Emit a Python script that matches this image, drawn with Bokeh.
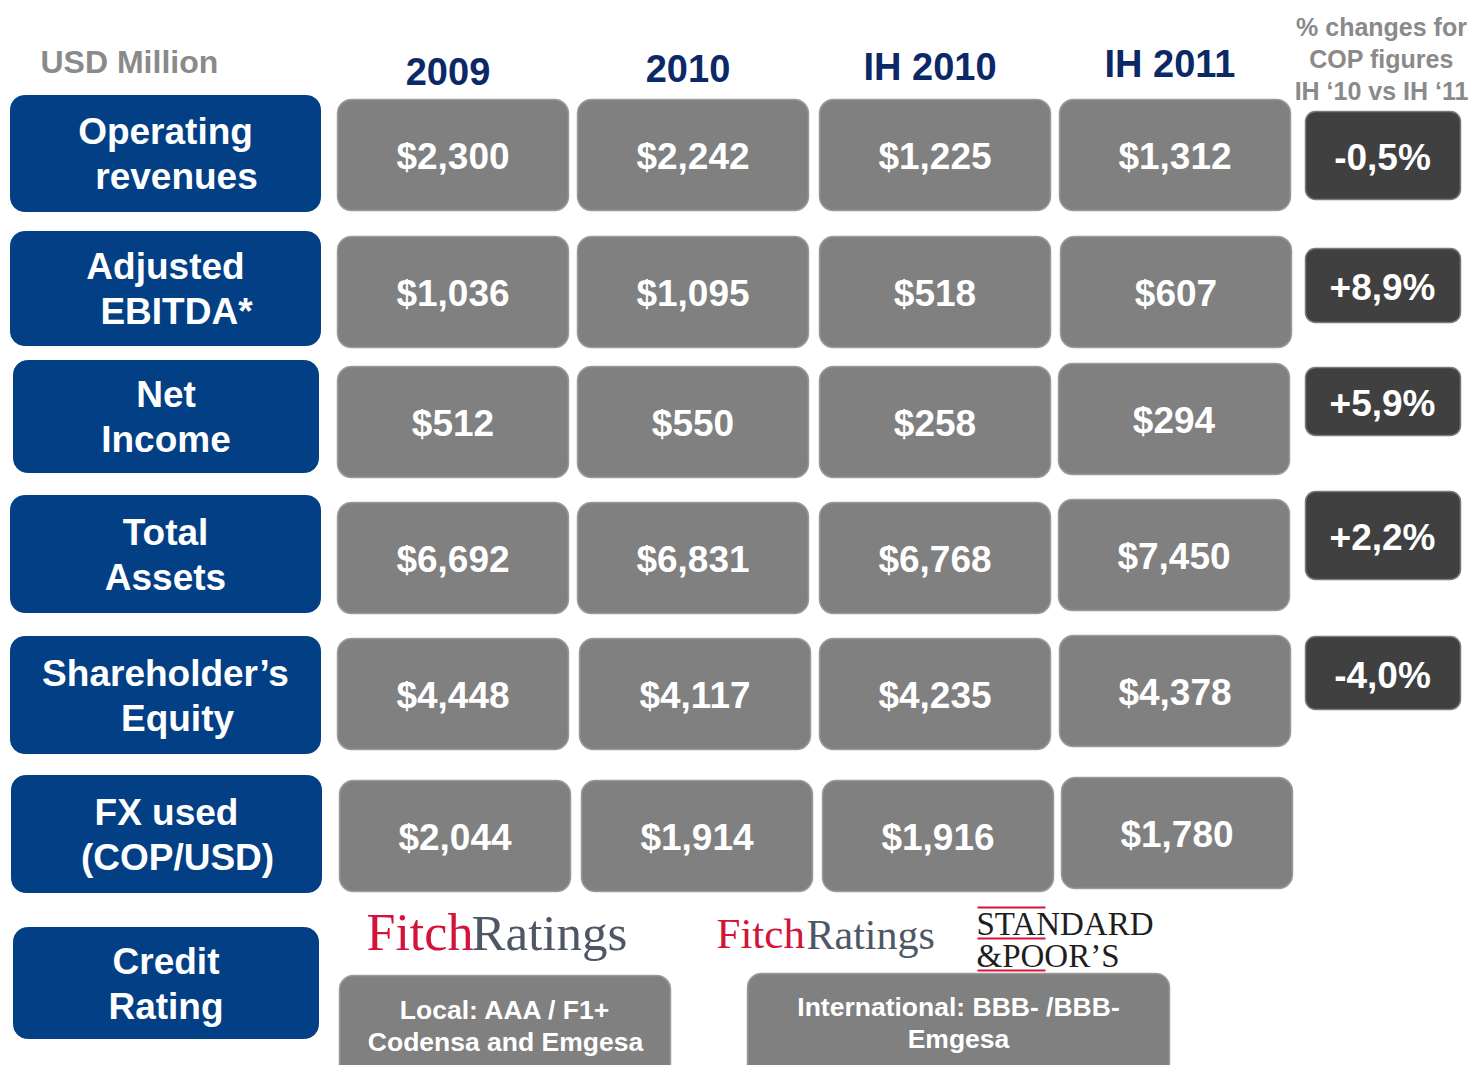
from bokeh.plotting import figure
from bokeh.models import Range1d, ColumnDataSource
from bokeh.core.properties import value
from bokeh.embed import file_html
from bokeh.resources import INLINE

# ---------------- data ----------------
unit_label = "USD Million"
years = ["2009", "2010", "IH 2010", "IH 2011"]
label_line1 = ["Operating", "Adjusted", "Net", "Total", "Shareholder\u2019s", "FX used", "Credit"]
label_line2 = ["revenues", "EBITDA*", "Income", "Assets", "Equity", "(COP/USD)", "Rating"]
v_2009 = [2300, 1036, 512, 6692, 4448, 2044]
v_2010 = [2242, 1095, 550, 6831, 4117, 1914]
v_ih2010 = [1225, 518, 258, 6768, 4235, 1916]
v_ih2011 = [1312, 607, 294, 7450, 4378, 1780]
pct_change = [-0.5, 8.9, 5.9, 2.2, -4.0]
pct_header = ["% changes for", "COP figures", "IH \u201810 vs IH \u201811"]
rating_line1 = ["Local: AAA / F1+", "International: BBB- /BBB-"]
rating_line2 = ["Codensa and Emgesa", "Emgesa"]

# ---------------- layout ----------------
BLUE = "#023f85"
NAVY = "#0b2867"
GRAY = "#808080"
DARK = "#404040"
HEAD_GRAY = "#8a8a8a"
SANS = "Liberation Sans"
SERIF = "Liberation Serif"

W, H = 1478, 1065
p = figure(width=W, height=H, output_backend="svg", toolbar_location=None,
           x_range=Range1d(0, W), y_range=Range1d(H, 0), min_border=0)
p.axis.visible = False
p.grid.visible = False
p.outline_line_color = None
p.background_fill_color = "white"
p.border_fill_color = "white"

# label boxes
lab_left = [10, 10, 13, 10, 10, 11, 13]
lab_right = [320, 320, 318, 320, 320, 321, 318]
lab_top = [95, 231, 360, 495, 636, 775, 927]
lab_bot = [211, 345, 472, 612, 753, 892, 1038]
lab_dx2 = [11, 11, 0, 0, 12, 11, 0]
p.quad(left=lab_left, right=lab_right, top=lab_top, bottom=lab_bot,
       fill_color=BLUE, line_color=BLUE, border_radius=14)
lx = [(l + r) / 2 for l, r in zip(lab_left, lab_right)]
lc = [(t + b) / 2 for t, b in zip(lab_top, lab_bot)]
p.text(x=lx, y=[c - 22 for c in lc], text=label_line1, text_align="center",
       text_baseline="middle", text_color="white", text_font=value(SANS),
       text_font_style="bold", text_font_size="37px")
p.text(x=[x + d for x, d in zip(lx, lab_dx2)], y=[c + 23 for c in lc], text=label_line2,
       text_align="center", text_baseline="middle", text_color="white",
       text_font=value(SANS), text_font_style="bold", text_font_size="37px")

# header
p.text(x=[40], y=[61], text=[unit_label], text_align="left", text_baseline="middle",
       text_color=HEAD_GRAY, text_font=value(SANS), text_font_style="bold",
       text_font_size="32px")
col_left = [337, 577, 819, 1059]
col_w = 231
head_y = [71, 68, 66, 63]
p.text(x=[c + col_w / 2 - 5 for c in col_left], y=head_y, text=years, text_align="center",
       text_baseline="middle", text_color=NAVY, text_font=value(SANS),
       text_font_style="bold", text_font_size="38px")
p.text(x=[1381] * 3, y=[26, 58, 90], text=pct_header, text_align="center",
       text_baseline="middle", text_color=HEAD_GRAY, text_font=value(SANS),
       text_font_style="bold", text_font_size="25px")

# value cells
row_top = [99, 236, 366, 502, 638, 779]
row_h = 111
cell_dx = [[0, 0, 0, 0], [0, 0, 0, 1], [0, 0, 0, -1], [0, 0, 0, -1], [0, 2, 0, 0], [2, 4, 3, 2]]
cell_dy = [[0, 0, 0, 0], [0, 0, 0, 0], [0, 0, 0, -3], [0, 0, 0, -3], [0, 0, 0, -3], [1, 1, 1, -2]]
series = [v_2009, v_2010, v_ih2010, v_ih2011]
L, R, T, B, X, Y, TXT = [], [], [], [], [], [], []
for ci, vals in enumerate(series):
    for ri, v in enumerate(vals):
        l = col_left[ci] + cell_dx[ri][ci]
        t = row_top[ri] + cell_dy[ri][ci]
        L.append(l); R.append(l + col_w); T.append(t); B.append(t + row_h)
        X.append(l + col_w / 2); Y.append(t + row_h / 2 + 1)
        TXT.append(f"${v:,}")
src = ColumnDataSource(dict(l=L, r=R, t=T, b=B, x=X, y=Y, txt=TXT))
p.quad(left="l", right="r", top="t", bottom="b", source=src, fill_color=GRAY,
       line_color="#9a9a9a", line_width=1.5, border_radius=14)
p.text(x="x", y="y", text="txt", source=src, text_align="center", text_baseline="middle",
       text_color="white", text_font=value(SANS), text_font_style="bold",
       text_font_size="37px")

# percent change boxes
pc_top = [111, 248, 367, 491, 636]
pc_bot = [199, 322, 435, 579, 709]
pc_txt = [(f"{v:+.1f}%").replace(".", ",") for v in pct_change]
p.quad(left=[1305] * 5, right=[1460] * 5, top=pc_top, bottom=pc_bot, fill_color=DARK,
       line_color="#7a7a7a", line_width=1.5, border_radius=10)
p.text(x=[1382] * 5, y=[(t + b) / 2 + 2 for t, b in zip(pc_top, pc_bot)], text=pc_txt,
       text_align="center", text_baseline="middle", text_color="white",
       text_font=value(SANS), text_font_style="bold", text_font_size="37px")

# credit rating boxes
cr_left = [339, 747]
cr_right = [670, 1169]
cr_top = [975, 973]
p.quad(left=cr_left, right=cr_right, top=cr_top, bottom=[1100, 1100], fill_color=GRAY,
       line_color="#9a9a9a", line_width=1.5, border_radius=14)
p.text(x=[505, 958], y=[1009, 1006], text=rating_line1, text_align="center",
       text_baseline="middle", text_color="white", text_font=value(SANS),
       text_font_style="bold", text_font_size="26.5px")
p.text(x=[505, 958], y=[1041, 1038], text=rating_line2, text_align="center",
       text_baseline="middle", text_color="white", text_font=value(SANS),
       text_font_style="bold", text_font_size="26.5px")

# logos (as text)
FITCH_RED = "#d2143a"
RAT_GRAY = "#4e5766"
p.text(x=[366], y=[932], text=["Fitch"], text_align="left", text_baseline="middle",
       text_color=FITCH_RED, text_font=value(SERIF), text_font_size="52px")
p.text(x=[471], y=[932], text=["Ratings"], text_align="left", text_baseline="middle",
       text_color=RAT_GRAY, text_font=value(SERIF), text_font_size="51px")
p.text(x=[716], y=[933], text=["Fitch"], text_align="left", text_baseline="middle",
       text_color=FITCH_RED, text_font=value(SERIF), text_font_size="43px")
p.text(x=[806], y=[934], text=["Ratings"], text_align="left", text_baseline="middle",
       text_color=RAT_GRAY, text_font=value(SERIF), text_font_size="42px")
p.text(x=[976, 976], y=[923, 955], text=["STANDARD", "&POOR\u2019S"], text_align="left",
       text_baseline="middle", text_color="#1e1e1e", text_font=value(SERIF),
       text_font_size="33px")
p.segment(x0=[977, 977, 977], x1=[1045, 1045, 1045], y0=[907, 938, 970], y1=[907, 938, 970],
          line_color=FITCH_RED, line_width=2)

open("out.html", "w").write(file_html(p, INLINE))
